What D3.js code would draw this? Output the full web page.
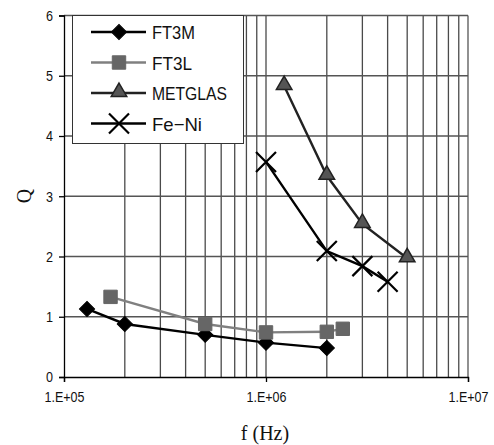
<!DOCTYPE html>
<html>
<head>
<meta charset="utf-8">
<script src="https://cdn.jsdelivr.net/npm/d3@7"></script>
<style>
  body { margin: 0; background: #fff; }
  svg { display: block; }
  .tick-label { font-family: "Liberation Sans", Arial, sans-serif; font-size: 15px; fill: #111; }
  .legend-label { font-family: "Liberation Sans", Arial, sans-serif; font-size: 19px; fill: #111; }
  .axis-title { font-family: "Liberation Serif", "Times New Roman", serif; font-size: 20px; fill: #111; }
</style>
</head>
<body>
<svg id="chart" width="494" height="445"></svg>
<script>
// series data
var ft3mFreq = [1.3e5, 2e5, 5e5, 1e6, 2e6];
var ft3mQ    = [1.13, 0.88, 0.70, 0.57, 0.48];
var ft3lFreq = [1.7e5, 5e5, 1e6, 2e6, 2.4e6];
var ft3lQ    = [1.33, 0.88, 0.74, 0.75, 0.80];
var metFreq  = [1.23e6, 2e6, 3e6, 5e6];
var metQ     = [4.83, 3.34, 2.54, 1.97];
var feniFreq = [1e6, 2e6, 3e6, 4e6];
var feniQ    = [3.57, 2.09, 1.84, 1.58];

var seriesNames = ["FT3M", "FT3L", "METGLAS", "Fe\u2212Ni"];
var yTicks = [0, 1, 2, 3, 4, 5, 6];
var xTickValues = [1e5, 1e6, 1e7];
var xTickLabels = ["1.E+05", "1.E+06", "1.E+07"];

var svg = d3.select("#chart");

var x = d3.scaleLog().domain([1e5, 1e7]).range([64, 468]);
var y = d3.scaleLinear().domain([0, 6]).range([377, 15.5]);

function zip(fs, qs) {
    return fs.map(function(f, i) { return { f: f, q: qs[i] }; });
}

var series = [
    { name: seriesNames[0], data: zip(ft3mFreq, ft3mQ), line: "#000", marker: "diamond", fill: "#000", stroke: "#000", w: 43 },
    { name: seriesNames[1], data: zip(ft3lFreq, ft3lQ), line: "#808080", marker: "square", fill: "#666", stroke: "#666", w: 40 },
    { name: seriesNames[2], data: zip(metFreq, metQ), line: "#222", marker: "triangle", fill: "#555", stroke: "#222", w: 75 },
    { name: seriesNames[3], data: zip(feniFreq, feniQ), line: "#000", marker: "cross", fill: "none", stroke: "#000", w: 50 }
];

// vertical grid lines (minor log ticks)
var gridX = [];
[1e5, 1e6].forEach(function(dec) {
    for (var k = 2; k <= 9; k++) gridX.push(k * dec);
});
gridX.push(1e6);

svg.append("g").selectAll("line")
    .data(gridX)
    .enter().append("line")
    .attr("x1", function(d) { return x(d); })
    .attr("x2", function(d) { return x(d); })
    .attr("y1", y(6))
    .attr("y2", y(0))
    .attr("stroke", "#4a4a4a")
    .attr("stroke-width", 1.3);

svg.append("g").selectAll("line")
    .data([1, 2, 3, 4, 5, 6])
    .enter().append("line")
    .attr("x1", x(1e5))
    .attr("x2", x(1e7))
    .attr("y1", function(d) { return y(d); })
    .attr("y2", function(d) { return y(d); })
    .attr("stroke", "#555")
    .attr("stroke-width", 1.3);

// right frame
svg.append("line")
    .attr("x1", x(1e7)).attr("x2", x(1e7))
    .attr("y1", y(6)).attr("y2", y(0))
    .attr("stroke", "#555").attr("stroke-width", 1.3);

// axes
var yAxis = d3.axisLeft(y).tickValues(yTicks).tickFormat(d3.format("d")).tickSize(5).tickPadding(6);
var gy = svg.append("g").attr("transform", "translate(" + x(1e5) + ",0)").call(yAxis);
gy.select(".domain").attr("stroke", "#000").attr("stroke-width", 1.3);
gy.selectAll(".tick line").attr("stroke", "#000").attr("stroke-width", 1.3);
gy.selectAll(".tick text").attr("class", "tick-label").attr("font-family", null).attr("font-size", null)
    .attr("textLength", 7).attr("lengthAdjust", "spacingAndGlyphs");

var xAxis = d3.axisBottom(x).tickValues(xTickValues)
    .tickFormat(function(d, i) { return xTickLabels[i]; })
    .tickSize(5).tickPadding(9);
var gx = svg.append("g").attr("transform", "translate(0," + y(0) + ")").call(xAxis);
gx.select(".domain").attr("stroke", "#000").attr("stroke-width", 1.3);
gx.selectAll(".tick line").attr("stroke", "#000").attr("stroke-width", 1.3);
gx.selectAll(".tick text").attr("class", "tick-label").attr("font-family", null).attr("font-size", null)
    .attr("textLength", 40).attr("lengthAdjust", "spacingAndGlyphs");

// axis titles
svg.append("text")
    .attr("class", "axis-title")
    .attr("text-anchor", "middle")
    .attr("transform", "translate(31,196) rotate(-90)")
    .text("Q");

svg.append("text")
    .attr("class", "axis-title")
    .attr("text-anchor", "middle")
    .attr("x", 265)
    .attr("y", 440)
    .text("f (Hz)");

// markers
var sym = {
    diamond: d3.symbol().type(d3.symbolSquare).size(115),
    square: d3.symbol().type(d3.symbolSquare).size(180),
    triangle: d3.symbol().type(d3.symbolTriangle).size(105)
};

function drawMarker(g, kind, s) {
    if (kind === "cross") {
        var r = 10;
        g.append("path")
            .attr("d", "M" + (-r) + "," + (-r) + "L" + r + "," + r + "M" + (-r) + "," + r + "L" + r + "," + (-r))
            .attr("stroke", s.stroke).attr("stroke-width", 2.2).attr("fill", "none");
    } else {
        g.append("path")
            .attr("d", sym[kind]())
            .attr("transform", kind === "triangle" ? "translate(0,-1)" : kind === "diamond" ? "rotate(45)" : null)
            .attr("fill", s.fill)
            .attr("stroke", s.stroke)
            .attr("stroke-width", kind === "triangle" ? 1.5 : 1);
    }
}

var line = d3.line()
    .x(function(d) { return x(d.f); })
    .y(function(d) { return y(d.q); });

series.forEach(function(s) {
    svg.append("path")
        .datum(s.data)
        .attr("d", line)
        .attr("fill", "none")
        .attr("stroke", s.line)
        .attr("stroke-width", 2.4);

    s.data.forEach(function(d) {
        var g = svg.append("g").attr("transform", "translate(" + x(d.f) + "," + y(d.q) + ")");
        drawMarker(g, s.marker, s);
    });
});

// legend box
var legend = svg.append("g");
legend.append("rect")
    .attr("x", 72.5).attr("y", 15.5)
    .attr("width", 171).attr("height", 128)
    .attr("fill", "#fff")
    .attr("stroke", "#333")
    .attr("stroke-width", 1);

series.forEach(function(s, i) {
    var cy = 32 + i * 30.5;
    legend.append("line")
        .attr("x1", 91).attr("x2", 146)
        .attr("y1", cy).attr("y2", cy)
        .attr("stroke", s.line).attr("stroke-width", 2.4);
    var g = legend.append("g").attr("transform", "translate(119," + cy + ")");
    drawMarker(g, s.marker, s);
    legend.append("text")
        .attr("class", "legend-label")
        .attr("x", 152)
        .attr("y", cy + 7)
        .attr("textLength", s.w)
        .attr("lengthAdjust", "spacingAndGlyphs")
        .text(s.name);
});
</script>
</body>
</html>
